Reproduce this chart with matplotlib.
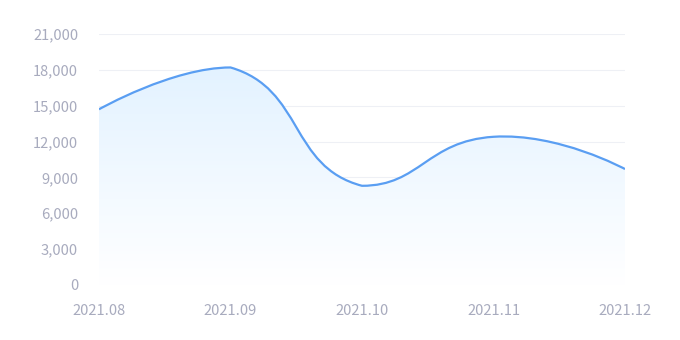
import numpy as np
import matplotlib
matplotlib.use("Agg")
import matplotlib.pyplot as plt
from matplotlib.path import Path
from matplotlib.patches import PathPatch

categories = ["2021.08", "2021.09", "2021.10", "2021.11", "2021.12"]
values = [14700, 18200, 8300, 12400, 9700]
yticks = [0, 3000, 6000, 9000, 12000, 15000, 18000, 21000]

W, H = 680, 340
fig = plt.figure(figsize=(W / 100, H / 100), dpi=100)
L, R, T, B = 99, 625, 34, 285
ax = fig.add_axes([L / W, 1 - B / H, (R - L) / W, (B - T) / H])
ymax = 21000

# echarts-like bezier smoothing with bounding-box constraint (pixel space)
xs = np.arange(len(values), dtype=float)
ys = np.array(values, dtype=float)
sx = (R - L) / (len(values) - 1)
sy = (B - T) / ymax
P = np.column_stack([xs * sx, ys * sy])
lo = P.min(axis=0)
hi = P.max(axis=0)
smooth = 0.5
n = len(P)
cp_in = [P[i].copy() for i in range(n)]
cp_out = [P[i].copy() for i in range(n)]
for i in range(1, n - 1):
    v = P[i + 1] - P[i - 1]
    d0 = np.linalg.norm(P[i] - P[i - 1])
    d1 = np.linalg.norm(P[i] - P[i + 1])
    ratio = d1 / (d0 + d1)
    cp_in[i] = np.clip(P[i] - v * smooth * (1 - ratio), lo, hi)
    cp_out[i] = np.clip(P[i] + v * smooth * ratio, lo, hi)

verts = [P[0]]
codes = [Path.MOVETO]
for i in range(n - 1):
    verts += [cp_out[i], cp_in[i + 1], P[i + 1]]
    codes += [Path.CURVE4] * 3
verts = np.array(verts)
verts = np.column_stack([verts[:, 0] / sx, verts[:, 1] / sy])

line_path = Path(verts, codes)
fill_verts = np.vstack([verts, [[xs[-1], 0], [xs[0], 0], [xs[0], ys[0]]]])
fill_codes = codes + [Path.LINETO, Path.LINETO, Path.CLOSEPOLY]
fill_path = Path(fill_verts, fill_codes)

for t in yticks:
    ax.axhline(t, color="#eef0f5", lw=0.8, zorder=0)

grad = np.linspace(0, 1, 256).reshape(-1, 1)
top = np.array([0.89, 0.95, 1.0])
bot = np.array([1.0, 1.0, 1.0])
cols = (bot[None, None, :] * (1 - grad[:, :, None]) + top[None, None, :] * grad[:, :, None])
im = ax.imshow(cols, extent=[xs[0], xs[-1], 0, max(values)], origin="lower",
               aspect="auto", zorder=1)
patch = PathPatch(fill_path, facecolor="none", edgecolor="none")
ax.add_patch(patch)
im.set_clip_path(patch)

ax.add_patch(PathPatch(line_path, facecolor="none", edgecolor="#5a9ef2", lw=1.6, zorder=3))

ax.set_xlim(0, len(categories) - 1)
ax.set_ylim(0, ymax)
ax.set_xticks(xs)
ax.set_xticklabels(categories)
ax.set_yticks(yticks)
ax.set_yticklabels([f"{t:,}" for t in yticks])
for s in ax.spines.values():
    s.set_visible(False)
ax.tick_params(length=0, colors="#a8abbe", labelsize=10.6)
ax.tick_params(axis="x", pad=14)
ax.tick_params(axis="y", pad=15)
for lbl in ax.get_xticklabels() + ax.get_yticklabels():
    lbl.set_fontfamily(["Noto Sans CJK SC", "DejaVu Sans"])
    lbl.set_color("#a8abbe")

fig.savefig("out.png", dpi=100, facecolor="white")
